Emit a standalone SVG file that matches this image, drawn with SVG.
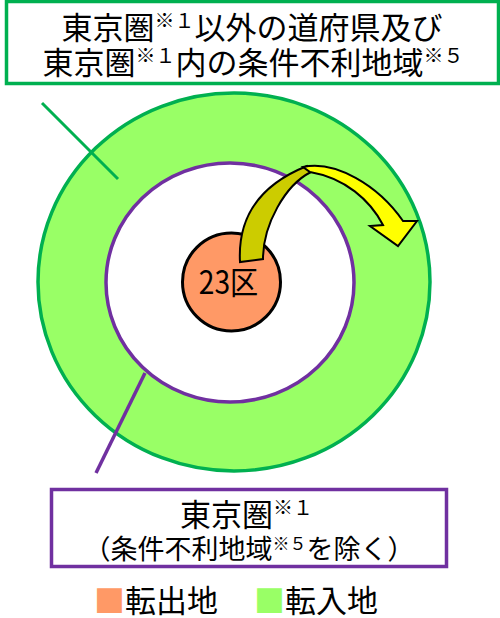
<svg xmlns="http://www.w3.org/2000/svg" width="500" height="618" viewBox="0 0 500 618">
<style>
.t{font-family:"Noto Sans CJK JP","Noto Sans CJK SC",sans-serif;fill:#000}
.big{font-size:31px}
.mid{font-size:27px}
.sup{font-size:20px}
.sup2{font-size:17px}
</style>
<rect width="500" height="618" fill="#fff"/>
<g id="outer-ring">
<ellipse cx="234" cy="282" rx="196" ry="189" fill="#99FF66" stroke="#00B050" stroke-width="3.5"/>
</g>
<g id="inner-area">
<ellipse cx="230" cy="282.5" rx="124" ry="119.5" fill="#fff" stroke="#7030A0" stroke-width="3.5"/>
</g>
<g id="connectors">
<line x1="42" y1="103" x2="118" y2="179" stroke="#00B050" stroke-width="3"/>
<line x1="145" y1="373" x2="96" y2="473" stroke="#7030A0" stroke-width="3.5"/>
</g>
<g id="source">
<circle cx="231.5" cy="282" r="49" fill="#FF9966" stroke="#000" stroke-width="3"/>
<text class="t" font-size="32" text-anchor="middle" transform="translate(228.5,294) scale(0.88,1)">23区</text>
</g>
<g id="arrow" stroke="#000" stroke-width="2" stroke-linejoin="miter">
<path d="M240,262 C238,225 252,188 307,166 L311,172 C285,185 263,225 263,259 Z" fill="#CCCC00"/>
<path d="M303,167 C335,160 378,185 403,221 L417,221 L398,246 L370,226 L383,225 C370,200 345,178 310,172 Z" fill="#FFFF00"/>
</g>
<g id="box-top">
<rect x="6.5" y="1.5" width="492" height="82" fill="#fff" stroke="#00B050" stroke-width="3.5"/>
<text class="t big" x="252" y="39" text-anchor="middle">東京圏<tspan class="sup" dy="-11">※１</tspan><tspan dy="11">以外の道府県及び</tspan></text>
<text class="t big" x="253" y="74" text-anchor="middle">東京圏<tspan class="sup" dy="-11">※１</tspan><tspan dy="11">内の条件不利地域</tspan><tspan class="sup" dy="-11">※５</tspan></text>
</g>
<g id="box-bottom">
<rect x="51.5" y="489.5" width="395" height="77" fill="#fff" stroke="#7030A0" stroke-width="3.5"/>
<text class="t big" x="180" y="526">東京圏<tspan class="sup" dy="-11">※１</tspan></text>
<text class="t mid" x="249" y="559" text-anchor="middle">（条件不利地域<tspan class="sup2" dy="-9">※５</tspan><tspan dy="9">を除く）</tspan></text>
</g>
<g id="legend">
<text class="t big" x="94" y="612"><tspan fill="#FF9966">■</tspan>転出地</text>
<text class="t big" x="254" y="612"><tspan fill="#99FF66">■</tspan>転入地</text>
</g>
</svg>
